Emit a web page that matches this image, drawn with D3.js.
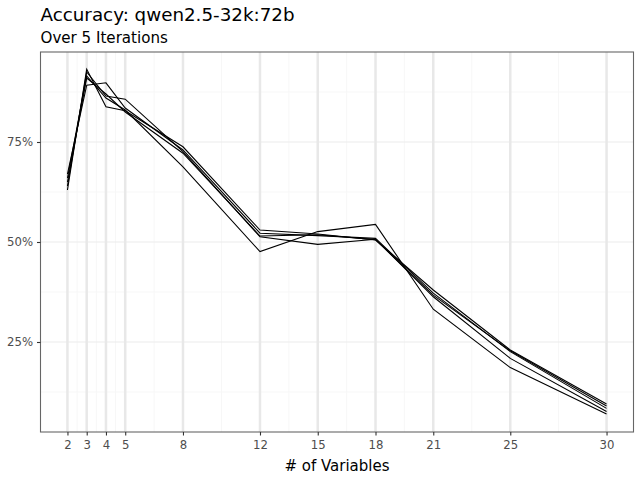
<!DOCTYPE html>
<html>
<head>
<meta charset="utf-8">
<script src="https://cdn.jsdelivr.net/npm/d3@7.9.0/dist/d3.min.js"></script>
<style>
  body { margin: 0; background: #fff; }
  svg { font-family: "DejaVu Sans", sans-serif; }
</style>
</head>
<body>
<div id="chart"></div>
<script>
// number of variables on the x axis
const variables = [2, 3, 4, 5, 8, 12, 15, 18, 21, 25, 30];
const yTicks = [0.25, 0.5, 0.75];
const yMinor = [0.125, 0.375, 0.625, 0.875];

// accuracy per iteration
const iter1 = [0.67, 0.892, 0.898, 0.835, 0.730, 0.522, 0.516, 0.509, 0.372, 0.226, 0.084];
const iter2 = [0.63, 0.932, 0.838, 0.828, 0.738, 0.530, 0.520, 0.505, 0.380, 0.230, 0.095];
const iter3 = [0.64, 0.925, 0.865, 0.857, 0.726, 0.513, 0.494, 0.507, 0.363, 0.209, 0.076];
const iter4 = [0.66, 0.915, 0.860, 0.830, 0.688, 0.476, 0.526, 0.544, 0.332, 0.186, 0.070];
const iter5 = [0.65, 0.910, 0.870, 0.825, 0.722, 0.515, 0.518, 0.506, 0.367, 0.228, 0.090];
const iterations = [iter1, iter2, iter3, iter4, iter5];

const width = 640;
const height = 480;
const margin = { top: 52, right: 6.5, bottom: 48, left: 40.5 };

const svg = d3.select('#chart')
  .append('svg')
  .attr('width', width)
  .attr('height', height);

const x = d3.scaleLinear()
  .domain([0.6, 31.4])
  .range([margin.left, width - margin.right]);

const y = d3.scaleLinear()
  .domain([0.025, 0.975])
  .range([height - margin.bottom, margin.top]);

const pLeft = margin.left, pRight = width - margin.right;
const pTop = margin.top, pBottom = height - margin.bottom;

// minor gridlines
const xMinor = d3.pairs(variables).map(([a, b]) => (a + b) / 2);
const grid = svg.append('g');
grid.selectAll('.xminor')
  .data(xMinor)
  .join('line')
  .attr('x1', (d) => x(d)).attr('x2', (d) => x(d))
  .attr('y1', pTop).attr('y2', pBottom)
  .attr('stroke', '#f7f7f7').attr('stroke-width', 1);
grid.selectAll('.yminor')
  .data(yMinor)
  .join('line')
  .attr('x1', pLeft).attr('x2', pRight)
  .attr('y1', (d) => y(d)).attr('y2', (d) => y(d))
  .attr('stroke', '#f7f7f7').attr('stroke-width', 1);

// major gridlines
grid.selectAll('.ymajor')
  .data(yTicks)
  .join('line')
  .attr('x1', pLeft).attr('x2', pRight)
  .attr('y1', (d) => y(d)).attr('y2', (d) => y(d))
  .attr('stroke', '#ebebeb').attr('stroke-width', 1.1);
grid.selectAll('.xmajor')
  .data(variables)
  .join('line')
  .attr('x1', (d) => x(d)).attr('x2', (d) => x(d))
  .attr('y1', pTop).attr('y2', pBottom)
  .attr('stroke', '#e8e8e8').attr('stroke-width', 2.5);

// lines
const line = d3.line()
  .x((d, i) => x(variables[i]))
  .y((d) => y(d));

svg.append('g')
  .selectAll('path')
  .data(iterations)
  .join('path')
  .attr('d', line)
  .attr('fill', 'none')
  .attr('stroke', '#000')
  .attr('stroke-width', 1.1);

// panel border
svg.append('rect')
  .attr('x', pLeft).attr('y', pTop)
  .attr('width', pRight - pLeft).attr('height', pBottom - pTop)
  .attr('fill', 'none')
  .attr('stroke', '#666')
  .attr('stroke-width', 1.1);

// axes
const xAxis = svg.append('g')
  .attr('transform', `translate(0, ${pBottom})`)
  .call(d3.axisBottom(x).tickValues(variables).tickSize(3.5).tickPadding(5.5).tickFormat(d3.format('d')));
const yAxis = svg.append('g')
  .attr('transform', `translate(${pLeft}, 0)`)
  .call(d3.axisLeft(y).tickValues(yTicks).tickSize(3.5).tickPadding(4).tickFormat(d3.format('.0%')));

[xAxis, yAxis].forEach((a) => {
  a.select('.domain').remove();
  a.selectAll('line').attr('stroke', '#333').attr('stroke-width', 1.1);
  a.selectAll('text')
    .attr('fill', '#4d4d4d')
    .style('font-size', '11.7px')
    .style('font-family', '"DejaVu Sans", sans-serif');
});

// titles
svg.append('text')
  .attr('x', pLeft).attr('y', 21)
  .style('font-size', '18.3px')
  .attr('fill', '#000')
  .text('Accuracy: qwen2.5-32k:72b');
svg.append('text')
  .attr('x', pLeft).attr('y', 43)
  .style('font-size', '15.1px')
  .attr('fill', '#000')
  .text('Over 5 Iterations');
svg.append('text')
  .attr('x', (pLeft + pRight) / 2).attr('y', 471)
  .attr('text-anchor', 'middle')
  .style('font-size', '15px')
  .attr('fill', '#000')
  .text('# of Variables');
</script>
</body>
</html>
